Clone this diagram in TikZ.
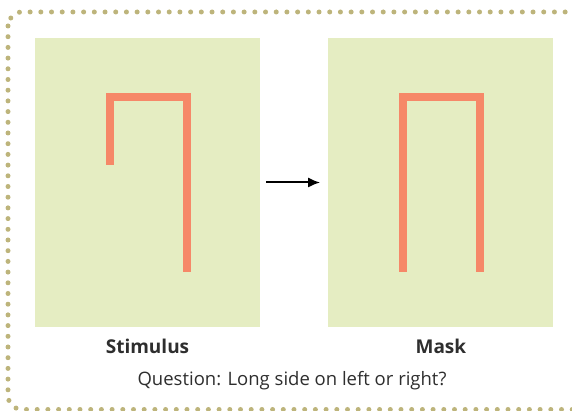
\documentclass[tikz,border=0pt]{standalone}
\usepackage{fontspec}
\setmainfont{Open Sans}
\usetikzlibrary{arrows.meta, positioning, calc}

\definecolor{panelgreen}{HTML}{E5EDC2}
\definecolor{barsalmon}{HTML}{F68868}
\definecolor{dotkhaki}{HTML}{BDB47B}
\definecolor{textgray}{HTML}{2E2E2E}

\begin{document}
\begin{tikzpicture}[x=1pt, y=1pt, node distance=68pt]
        \tikzstyle{panel} = [rectangle, minimum width=225pt, minimum height=289pt, inner sep=0pt, fill=panelgreen]
        \tikzstyle{bar} = [line width=8pt, draw=barsalmon, line join=miter]
        \tikzstyle{caption} = [font=\fontsize{19}{22}\selectfont\bfseries, text=textgray]
        \tikzstyle{question} = [font=\fontsize{18.5}{22}\selectfont, text=textgray]
        \tikzstyle{arrow} = [line width=2pt, -{Latex[length=12pt, width=10pt]}, shorten <=6pt, shorten >=8pt]

        \useasboundingbox (0,0) rectangle (572,411);
        \begin{scope}
            \clip (0,0) rectangle (572,411);
            \draw [dotkhaki, line width=5pt, line cap=round, dash pattern=on 0pt off 10.7pt, rounded corners=14pt] (8,399) rectangle (590,1.5);
        \end{scope}

        \node (stim) [panel] at (147.5,228.5) {};
        \node (mask) [panel, right=of stim] {};

        % stimulus: short side on the left
        \draw [bar] ($(stim.center)+(-37.5,17.5)$) -- ($(stim.center)+(-37.5,85.5)$) -- ($(stim.center)+(39.5,85.5)$) -- ($(stim.center)+(39.5,-89.5)$);
        % mask: both sides long
        \draw [bar] ($(mask.center)+(-37.5,-89.5)$) -- ($(mask.center)+(-37.5,85.5)$) -- ($(mask.center)+(39.5,85.5)$) -- ($(mask.center)+(39.5,-89.5)$);

        \draw [arrow] (stim.east) -- (mask.west);

        \node (stimlabel) [caption, below=19pt of stim.south, anchor=center] {Stimulus};
        \node (masklabel) [caption, below=19pt of mask.south, anchor=center] {Mask};
        \node (quest) [question] at (292,30) {Question: Long side on left or right?};
    \end{tikzpicture}
\end{document}
